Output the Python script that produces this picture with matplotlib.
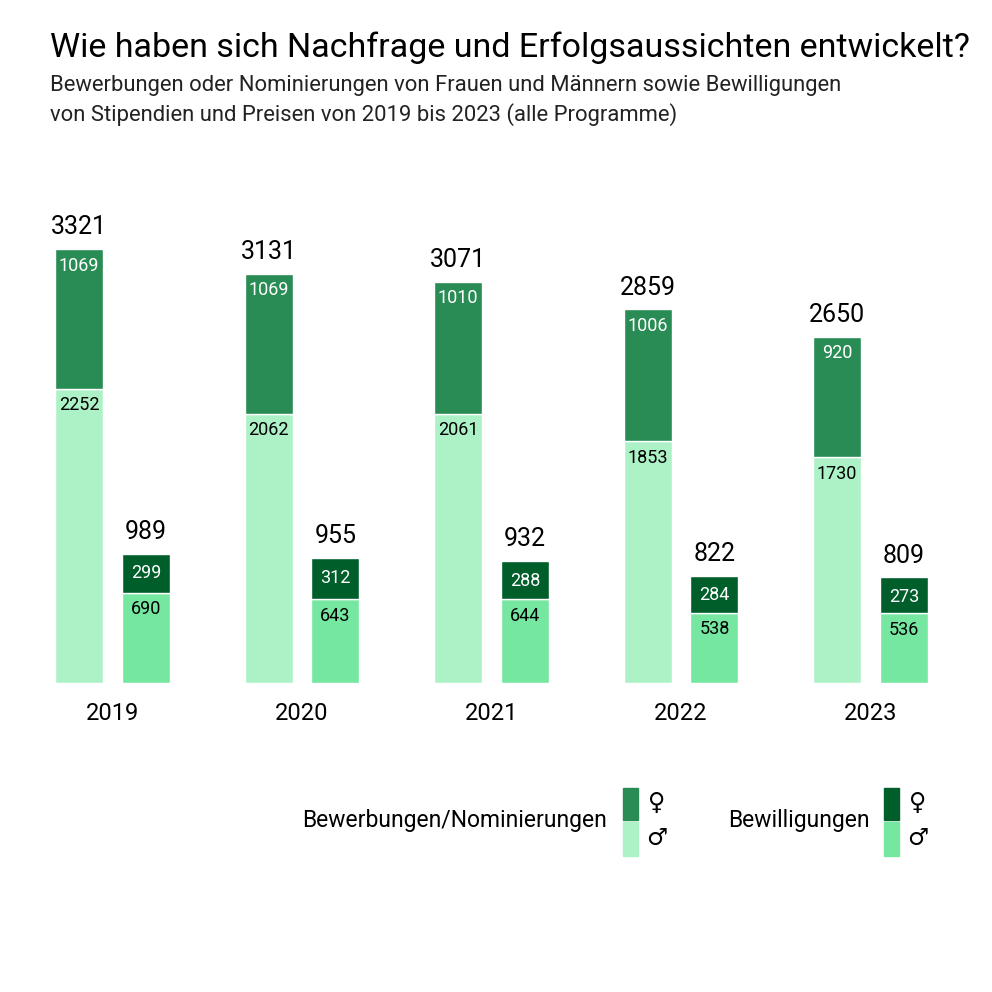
import matplotlib.pyplot as plt
from matplotlib.patches import Rectangle
from matplotlib import font_manager

# Data
years = ['2019', '2020', '2021', '2022', '2023']
apps_female = [1069, 1069, 1010, 1006, 920]
apps_male = [2252, 2062, 2061, 1853, 1730]
grants_female = [299, 312, 288, 284, 273]
grants_male = [690, 643, 644, 538, 536]

c_app_f = '#2a8c55'
c_app_m = '#adf2c7'
c_gr_f = '#005e2b'
c_gr_m = '#75e7a1'

names = {f.name for f in font_manager.fontManager.ttflist}
base = 'Liberation Sans Narrow' if 'Liberation Sans Narrow' in names else 'Roboto'
plt.rcParams['font.family'] = [base, 'DejaVu Sans']

W = 992
fig = plt.figure(figsize=(9.92, 9.92), dpi=100)

# axes placement in pixels (from top)
base_px = 683
top_px = 200
ax = fig.add_axes([0, (W - base_px) / W, 1, (base_px - top_px) / W])
spacing = 189.5
x0 = 112.5
ax.set_xlim(-x0 / spacing, (W - x0) / spacing)
ax.set_ylim(0, (base_px - top_px) / (434 / 3321))
ax.axis('off')

xs = list(range(len(years)))
bw = 48 / spacing
off = 33.5 / spacing
xa = [x - off for x in xs]
xg = [x + off for x in xs]

ax.bar(xa, apps_male, bw, color=c_app_m, edgecolor='white', linewidth=1)
ax.bar(xa, apps_female, bw, bottom=apps_male, color=c_app_f, edgecolor='white', linewidth=1)
ax.bar(xg, grants_male, bw, color=c_gr_m, edgecolor='white', linewidth=1)
ax.bar(xg, grants_female, bw, bottom=grants_male, color=c_gr_f, edgecolor='white', linewidth=1)

for i in xs:
    ta = apps_male[i] + apps_female[i]
    tg = grants_male[i] + grants_female[i]
    ax.annotate(str(ta), (xa[i], ta), xytext=(0, 7), textcoords='offset points',
                ha='center', va='bottom', fontsize=18)
    ax.annotate(str(tg), (xg[i], tg), xytext=(0, 7), textcoords='offset points',
                ha='center', va='bottom', fontsize=18)
    ax.annotate(str(apps_female[i]), (xa[i], ta), xytext=(0, -12), textcoords='offset points',
                ha='center', va='center', fontsize=13, color='white')
    ax.annotate(str(apps_male[i]), (xa[i], apps_male[i]), xytext=(0, -12), textcoords='offset points',
                ha='center', va='center', fontsize=13, color='black')
    ax.annotate(str(grants_female[i]), (xg[i], tg), xytext=(0, -14), textcoords='offset points',
                ha='center', va='center', fontsize=13, color='white')
    ax.annotate(str(grants_male[i]), (xg[i], grants_male[i]), xytext=(0, -12), textcoords='offset points',
                ha='center', va='center', fontsize=13, color='black')
    ax.annotate(years[i], (xs[i], 0), xytext=(0, -22), textcoords='offset points',
                ha='center', va='center', fontsize=17)

# Title and subtitle
fig.text(50 / W, 1 - 48 / W, 'Wie haben sich Nachfrage und Erfolgsaussichten entwickelt?',
         fontsize=24.5, va='center', ha='left')
fig.text(50 / W, 1 - 86 / W, 'Bewerbungen oder Nominierungen von Frauen und Männern sowie Bewilligungen',
         fontsize=15.8, va='center', ha='left', color='#222222')
fig.text(50 / W, 1 - 115 / W, 'von Stipendien und Preisen von 2019 bis 2023 (alle Programme)',
         fontsize=15.8, va='center', ha='left', color='#222222')

# Legend
def legend_block(label, x_text_right, x_patch, cf, cm):
    fig.text(x_text_right / W, 1 - 821 / W, label, fontsize=16.5, ha='right', va='center')
    fig.patches.append(Rectangle((x_patch / W, 1 - 820 / W), 15 / W, 32 / W,
                                 transform=fig.transFigure, color=cf, figure=fig))
    fig.patches.append(Rectangle((x_patch / W, 1 - 856 / W), 15 / W, 34 / W,
                                 transform=fig.transFigure, color=cm, figure=fig))
    fig.text((x_patch + 34) / W, 1 - 803 / W, '♀', fontsize=17, ha='center', va='center',
             family=['DejaVu Sans'])
    fig.text((x_patch + 34) / W, 1 - 838 / W, '♂', fontsize=17, ha='center', va='center',
             family=['DejaVu Sans'])

legend_block('Bewerbungen/Nominierungen', 607, 623, c_app_f, c_app_m)
legend_block('Bewilligungen', 870, 884, c_gr_f, c_gr_m)

fig.savefig('out.png', dpi=100, facecolor='white')
